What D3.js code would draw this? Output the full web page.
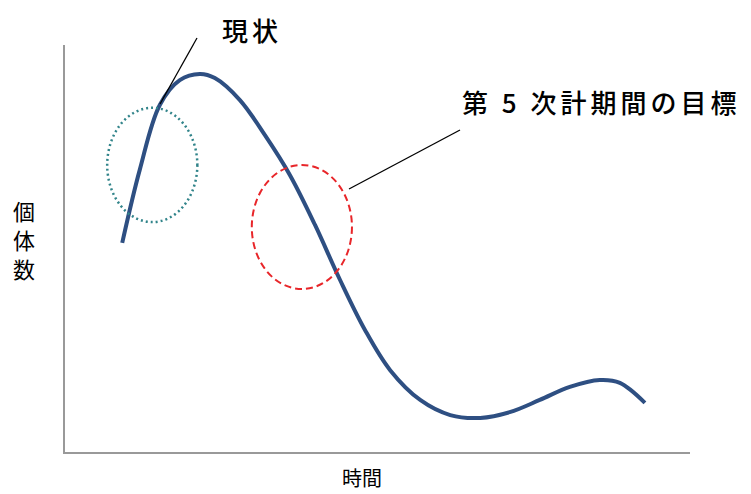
<!DOCTYPE html>
<html><head><meta charset="utf-8">
<script src="https://cdn.jsdelivr.net/npm/d3@7"></script>
<style>body{margin:0;background:#fff}</style>
</head><body>
<svg id="c" width="751" height="494"></svg>
<script>
// curve samples: time (0-100) vs population (0-100)
var times = [9.3,12.1,15.3,18.5,21.7,24.1,28.1,32.1,36.1,40.1,44.1,48.1,52.1,56.9,61.7,66.5,71.2,76.0,80.8,85.6,88.8,92.8];
var counts = [51.5,69.4,85.3,91.4,92.9,91.9,86.5,77.9,68.1,55.9,42.4,30.1,20.3,13.0,9.3,8.6,10.0,13.0,16.2,17.9,17.2,12.3];
var xLabel = "時間", yLabel = ["個", "体", "数"];
var now = {t: 14.1, v: 70.6, rt: 7.2, rv: 14, label: "現状"};
var goal = {t: 38.0, v: 55.4, rt: 8.0, rv: 15.2, label: "第 5 次計期間の目標"};

var svg = d3.select("#c");
var x = d3.scaleLinear().domain([0, 100]).range([64, 690]);
var y = d3.scaleLinear().domain([0, 100]).range([453, 45]);
var font = "'Noto Sans CJK JP', sans-serif";

svg.append("path").attr("d", "M" + x(0) + "," + y(100) + "V" + y(0) + "H" + x(100))
  .attr("fill", "none").attr("stroke", "#999").attr("stroke-width", 2);

svg.append("path").datum(d3.zip(times, counts))
  .attr("d", d3.line().x(d => x(d[0])).y(d => y(d[1])).curve(d3.curveCatmullRom))
  .attr("fill", "none").attr("stroke", "#2e4f82").attr("stroke-width", 4);

svg.append("ellipse").attr("cx", x(now.t)).attr("cy", y(now.v))
  .attr("rx", x(now.rt) - x(0)).attr("ry", y(0) - y(now.rv))
  .attr("fill", "none").attr("stroke", "#31848a").attr("stroke-width", 2.5).attr("stroke-dasharray", "2,3");
svg.append("ellipse").attr("cx", x(goal.t)).attr("cy", y(goal.v))
  .attr("rx", x(goal.rt) - x(0)).attr("ry", y(0) - y(goal.rv))
  .attr("fill", "none").attr("stroke", "#e8262a").attr("stroke-width", 2).attr("stroke-dasharray", "7,4");

svg.append("line").attr("x1", 160).attr("y1", 104).attr("x2", 197).attr("y2", 38).attr("stroke", "#000").attr("stroke-width", 1.3);
svg.append("line").attr("x1", 349).attr("y1", 189).attr("x2", 460).attr("y2", 130).attr("stroke", "#000").attr("stroke-width", 1.3);

svg.append("text").attr("x", 222).attr("y", 41).text(now.label)
  .attr("font-family", font).attr("font-size", 26).attr("font-weight", 500).attr("letter-spacing", 4);
svg.append("text").attr("x", 462).attr("y", 113).text(goal.label)
  .attr("font-family", font).attr("font-size", 26).attr("font-weight", 500).attr("letter-spacing", 4);

svg.append("text").attr("x", 362).attr("y", 486).attr("text-anchor", "middle").text(xLabel)
  .attr("font-family", font).attr("font-size", 20);
svg.selectAll(".yl").data(yLabel).enter().append("text")
  .attr("x", 24).attr("y", (d, i) => 220 + i * 29).attr("text-anchor", "middle").text(d => d)
  .attr("font-family", font).attr("font-size", 22);
</script>
</body></html>
